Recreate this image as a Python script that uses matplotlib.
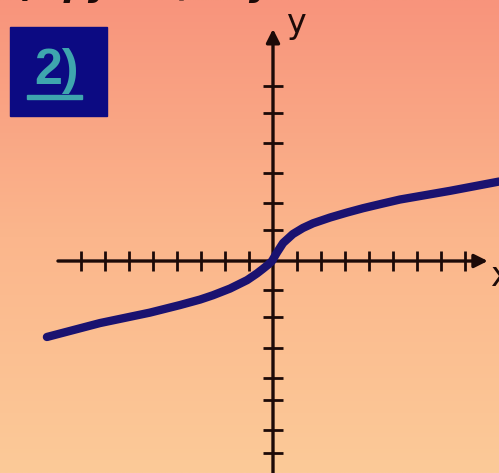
import numpy as np
import matplotlib.pyplot as plt

# curve points (x in units of 24 px, y in units of 29 px)
curve_x = [-9.42, -7.21, -5.13, -3.88, -3.04, -2.5, -1.79, -1.08, -0.67, -0.42, -0.21,
           -0.04, 0.17, 0.42, 0.83, 1.25, 1.67, 2.38, 3.08, 3.75, 4.46, 5.29, 7.38, 9.42]
curve_y = [-2.62, -2.14, -1.78, -1.52, -1.33, -1.18, -0.95, -0.66, -0.43, -0.27, -0.13,
           0.0, 0.30, 0.62, 0.93, 1.14, 1.30, 1.50, 1.67, 1.82, 1.96, 2.12, 2.42, 2.74]

# tick marks along the axes
xticks = [-8, -7, -6, -5, -4, -3, -2, -1, 1, 2, 3, 4, 5, 6, 7, 8]
yticks = [6.03, 5.1, 4.07, 3.03, 2.0, 1.07, -1.0, -1.93, -3.0, -4.03, -4.79, -5.83, -6.62]

# axis extents
x_axis = (-8.96, 8.95)
y_axis = (-7.4, 8.0)
xlim = (-11.375, 9.417)
ylim = (-7.31, 9.0)

axis_col = '#1c0a08'
curve_col = '#1a1270'

fig = plt.figure(figsize=(4.99, 4.73), dpi=100)
ax = fig.add_axes([0, 0, 1, 1])
ax.set_xlim(*xlim)
ax.set_ylim(*ylim)
ax.axis('off')

# background gradient, salmon at top to peach at bottom
top = np.array([248, 148, 124]) / 255
mid = np.array([251, 182, 140]) / 255
bot = np.array([252, 202, 152]) / 255
t = np.linspace(0, 1, 256)[:, None]
grad = np.where(t < 0.5, top + (mid - top) * (t / 0.5), mid + (bot - mid) * ((t - 0.5) / 0.5))
grad = np.repeat(grad[:, None, :], 2, axis=1)
ax.imshow(grad, extent=[xlim[0], xlim[1], ylim[0], ylim[1]], aspect='auto', zorder=0)

# axes with arrows
ax.annotate('', xy=(x_axis[1], 0), xytext=(x_axis[0], 0),
            arrowprops=dict(arrowstyle='-|>', lw=2.4, color=axis_col, mutation_scale=20, shrinkA=0, shrinkB=0))
ax.annotate('', xy=(0, y_axis[1]), xytext=(0, y_axis[0]),
            arrowprops=dict(arrowstyle='-|>', lw=2.4, color=axis_col, mutation_scale=20, shrinkA=0, shrinkB=0))

ax.plot(xticks, [0] * len(xticks), '|', color=axis_col, ms=15, mew=2, zorder=3)
ax.plot([0] * len(yticks), yticks, '_', color=axis_col, ms=15, mew=2, zorder=3)

ax.text(0.55, 8.2, 'y', fontsize=24, color=axis_col, ha='left', va='center')
ax.text(9.05, -0.55, 'x', fontsize=24, color=axis_col, ha='left', va='center')

# the curve
ax.plot(curve_x, curve_y, color=curve_col, lw=6, solid_capstyle='round', solid_joinstyle='round', zorder=4)

# label box "2)"
fig.patches.append(plt.Rectangle((10 / 499, 1 - 116 / 473), 97 / 499, 89 / 473,
                                 transform=fig.transFigure, color='#0c0a82', zorder=5))
fig.text(57 / 499, 1 - 71 / 473, '2)', fontsize=36, fontweight='bold', family='Liberation Sans',
         color='#3ea6ae', ha='center', va='center', zorder=6)
fig.patches.append(plt.Rectangle((27 / 499, 1 - 99 / 473), 55 / 499, 4 / 473,
                                 transform=fig.transFigure, color='#3ea6ae', zorder=6))

# heading cut off by the top edge
fig.text(0.0, 1.0 + 4 / 473, 'в) функция у = ...', fontsize=26, fontweight='bold', style='italic',
         color=axis_col, ha='left', va='baseline')

fig.savefig('out.png', dpi=100)
